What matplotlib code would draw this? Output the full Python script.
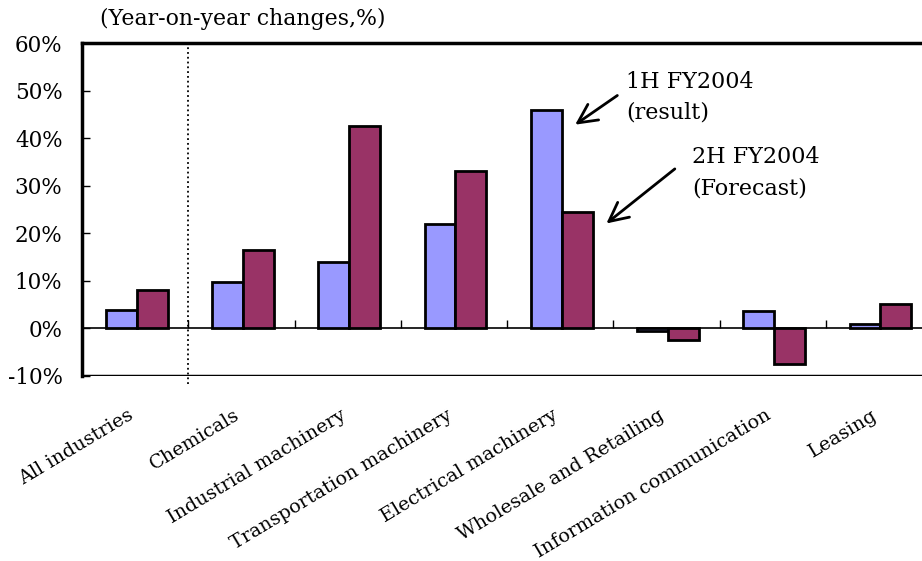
import matplotlib.pyplot as plt
import matplotlib.transforms as mtransforms
import numpy as np

categories = ['All industries', 'Chemicals', 'Industrial machinery',
              'Transportation machinery', 'Electrical machinery',
              'Wholesale and Retailing', 'Information communication', 'Leasing']
first_half = [3.9, 9.7, 13.9, 21.9, 45.9, -0.5, 3.6, 1.0]
second_half = [8.0, 16.4, 42.5, 33.1, 24.4, -2.4, -7.4, 5.2]
yticks = [-10, 0, 10, 20, 30, 40, 50, 60]

plt.rcParams['font.family'] = ['DejaVu Serif']

fig = plt.figure(figsize=(9.22, 5.61), dpi=100)
ax = fig.add_axes([82 / 922, 1 - 376 / 561, 850 / 922, 333 / 561])

x = np.arange(len(categories))
w = 0.29
ax.bar(x - w / 2 + 0.015, first_half, w, color='#9999FF', edgecolor='black', linewidth=2, zorder=3)
ax.bar(x + w / 2 + 0.015, second_half, w, color='#993366', edgecolor='black', linewidth=2, zorder=3)

ax.set_xlim(-0.5, len(categories) - 0.5)
ax.set_ylim(-10, 60)

# zero line acts as x axis, thick frame line at the bottom
ax.spines['bottom'].set_position(('data', 0))
ax.spines['bottom'].set_linewidth(1.2)
ax.spines['right'].set_visible(False)
ax.spines['left'].set_linewidth(2.5)
ax.spines['top'].set_linewidth(2.5)
ax.axhline(-10, color='black', lw=2.5, zorder=4)

ax.set_xticks(np.arange(len(categories) + 1) - 0.5, minor=True)
ax.set_xticks(x)
ax.set_xticklabels(categories, rotation=31, ha='right', rotation_mode='anchor', fontsize=13.8)
ax.tick_params(axis='x', which='major', length=0, pad=56)
ax.tick_params(axis='x', which='minor', direction='in', length=6, width=1)
shift = mtransforms.ScaledTranslation(-0.08, 0, fig.dpi_scale_trans)
for lab in ax.get_xticklabels():
    lab.set_transform(lab.get_transform() + shift)

ax.set_yticks(yticks)
ax.set_yticklabels([f'{t}%' for t in yticks], fontsize=15.5)
ax.tick_params(axis='y', direction='in', length=6, width=1, pad=14)

ax.axvline(0.5, ymin=-0.025, ymax=1, color='black', ls=':', lw=1.3, clip_on=False)

ax.annotate('', xy=(4.12, 42.5), xytext=(4.56, 49.3),
            arrowprops=dict(arrowstyle='->', lw=2, color='black', mutation_scale=34))
ax.text(4.62, 54.2, '1H FY2004\n(result)', fontsize=16, va='top', ha='left', linespacing=1.55)
ax.annotate('', xy=(4.415, 21.7), xytext=(5.10, 33.9),
            arrowprops=dict(arrowstyle='->', lw=2, color='black', mutation_scale=34))
ax.text(5.24, 38.3, '2H FY2004\n(Forecast)', fontsize=16, va='top', ha='left', linespacing=1.55)

fig.text(100 / 922, 1 - 19 / 561, '(Year-on-year changes,%)', fontsize=15.8, va='center', ha='left')

fig.savefig('out.png', dpi=100)
